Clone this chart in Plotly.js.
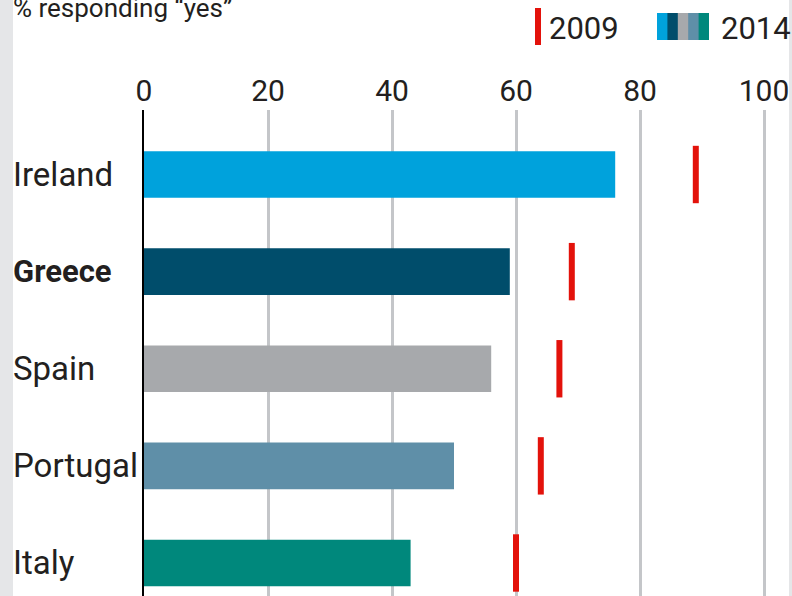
<!DOCTYPE html>
<html>
<head>
<meta charset="utf-8">
<script src="https://cdn.plot.ly/plotly-3.0.1.min.js"></script>
<style>
  html, body { margin: 0; padding: 0; background: #ffffff; overflow: hidden; }
  #chart { width: 792px; height: 596px; }
</style>
</head>
<body>
<div id="chart"></div>
<script>
// ---- data ----
const countries = ['Ireland', 'Greece', 'Spain', 'Portugal', 'Italy'];
const labels = ['Ireland', '<b>Greece</b>', 'Spain', 'Portugal', 'Italy'];
const values2014 = [76, 59, 56, 50, 43];
const values2009 = [89, 69, 67, 64, 60];
const barColors = ['#00a2dc', '#004d6b', '#a7a9ac', '#5f8fa8', '#00887c'];
const xTicks = [0, 20, 40, 60, 80, 100];
const titleText = '% responding \u201cyes\u201d';
const legendLabels = ['2009', '2014'];

// ---- layout geometry (pixels) ----
const W = 792, H = 596;
const M = { l: 144, r: 3, t: 110, b: 0 };
const plotW = W - M.l - M.r, plotH = H - M.t - M.b;
const px = x => (x - M.l) / plotW;          // pixel x -> paper x
const py = y => (H - M.b - y) / plotH;      // pixel y -> paper y

const textColor = '#231f20';
const red = '#e3120b';
const FONT = 'Roboto, "Open Sans", sans-serif';

const traces = [
  {
    type: 'bar',
    orientation: 'h',
    x: values2014,
    y: countries,
    width: 0.48,
    marker: { color: barColors, line: { width: 0 } },
    hoverinfo: 'x+y',
    showlegend: false
  },
  {
    type: 'scatter',
    mode: 'markers',
    x: values2009,
    y: countries,
    marker: { symbol: 'line-ns', size: 41, color: red, line: { color: red, width: 6 } },
    hoverinfo: 'x+y',
    showlegend: false,
    cliponaxis: false
  }
];

const shapes = [
  // left & right grey page strips
  { type: 'rect', xref: 'paper', yref: 'paper', x0: px(0), x1: px(13), y0: py(H), y1: py(0),
    fillcolor: '#e5e6e8', line: { width: 0 }, layer: 'below' },
  { type: 'rect', xref: 'paper', yref: 'paper', x0: px(789), x1: px(W), y0: py(H), y1: py(0),
    fillcolor: '#e5e6e8', line: { width: 0 }, layer: 'below' },
  // legend: 2009 red tick
  { type: 'rect', xref: 'paper', yref: 'paper', x0: px(535), x1: px(541), y0: py(45), y1: py(8),
    fillcolor: red, line: { width: 0 } }
];
// legend: 2014 multi-colour swatch (each segment runs to the end; later ones overlap earlier)
const swX0 = 657, swX1 = 709, swW = (swX1 - swX0) / barColors.length;
barColors.forEach((c, i) => {
  shapes.push({ type: 'rect', xref: 'paper', yref: 'paper',
    x0: px(swX0 + i * swW), x1: px(swX1),
    y0: py(40), y1: py(13),
    fillcolor: c, line: { width: 0 } });
});

const annotations = [
  { text: titleText, xref: 'paper', yref: 'paper', x: px(11), y: py(25),
    xanchor: 'left', yanchor: 'bottom', showarrow: false,
    font: { family: FONT, size: 26, color: textColor } },
  { text: legendLabels[0], xref: 'paper', yref: 'paper', x: px(547), y: py(28),
    xanchor: 'left', yanchor: 'middle', showarrow: false,
    font: { family: FONT, size: 31, color: textColor } },
  { text: legendLabels[1], xref: 'paper', yref: 'paper', x: px(719), y: py(28),
    xanchor: 'left', yanchor: 'middle', showarrow: false,
    font: { family: FONT, size: 31, color: textColor } }
];
countries.forEach((c, i) => {
  annotations.push({ text: labels[i], xref: 'paper', yref: 'y', x: px(11), y: c,
    xanchor: 'left', yanchor: 'middle', showarrow: false,
    font: { family: FONT, size: i === 1 ? 31 : 33, color: textColor } });
});

const layout = {
  width: W, height: H,
  margin: M,
  paper_bgcolor: 'rgba(0,0,0,0)',
  plot_bgcolor: '#ffffff',
  font: { family: FONT, color: textColor },
  showlegend: false,
  xaxis: {
    side: 'top',
    range: [0, plotW / 6.2],
    tickvals: xTicks,
    ticktext: xTicks.map(String),
    tickfont: { family: FONT, size: 30, color: textColor },
    ticks: 'outside', ticklen: 0, tickcolor: 'rgba(0,0,0,0)',
    ticklabelstandoff: -4,
    showgrid: true, gridcolor: '#c4c6c9', gridwidth: 3,
    zeroline: false, showline: false, fixedrange: true
  },
  yaxis: {
    type: 'category',
    categoryorder: 'array', categoryarray: countries,
    range: [4 + 33 / 97.1, -(174.5 - M.t) / 97.1],
    showticklabels: false, ticks: '',
    showgrid: false, zeroline: false,
    showline: true, linecolor: '#000000', linewidth: 2,
    fixedrange: true
  },
  shapes: shapes,
  annotations: annotations
};

Plotly.newPlot('chart', traces, layout, { displayModeBar: false, staticPlot: true });
</script>
</body>
</html>
